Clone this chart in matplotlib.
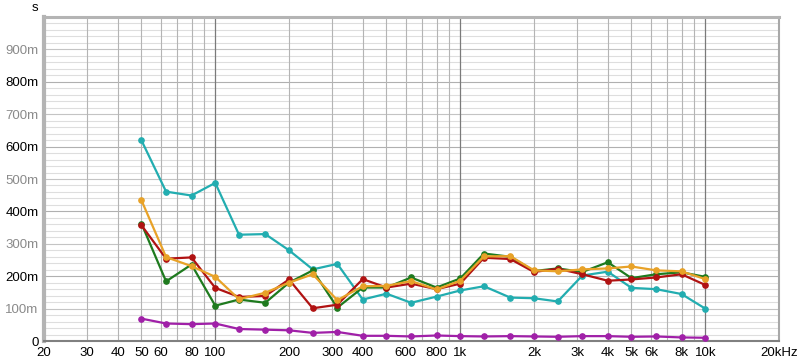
import matplotlib
matplotlib.use("Agg")
import matplotlib.pyplot as plt
import numpy as np

#============================DATA===================================
freqs = [50, 63, 80, 100, 125, 160, 200, 250, 315, 400, 500, 630, 800,
         1000, 1250, 1600, 2000, 2500, 3150, 4000, 5000, 6300, 8000, 10000]

# values in ms
cyan = [619, 461, 449, 488, 328, 330, 280, 221, 238, 128, 146, 118, 137,
        156, 169, 134, 132, 122, 202, 214, 164, 160, 145, 100]
green = [362, 184, 236, 109, 128, 118, 180, 218, 103, 165, 165, 196, 165,
         193, 270, 260, 216, 224, 213, 243, 194, 206, 212, 198]
red = [357, 254, 258, 164, 136, 139, 190, 101, 112, 191, 165, 177, 160,
       177, 257, 253, 213, 223, 206, 186, 190, 196, 206, 173]
orange = [434, 259, 231, 198, 129, 149, 180, 206, 126, 169, 170, 185, 159,
          186, 261, 262, 218, 215, 221, 224, 230, 218, 215, 191]
magenta = [69, 54, 52, 54, 37, 35, 33, 25, 28, 16, 16, 14, 17,
           15, 14, 15, 14, 13, 15, 15, 13, 14, 11, 10]

x_ticks = [20, 30, 40, 50, 60, 80, 100, 200, 300, 400, 600, 800, 1000,
           2000, 3000, 4000, 5000, 6000, 8000, 10000, 20000]
x_labels = ["20", "30", "40", "50", "60", "80", "100", "200", "300", "400",
            "600", "800", "1k", "2k", "3k", "4k", "5k", "6k", "8k", "10k", "20kHz"]
y_ticks = [0, 100, 200, 300, 400, 500, 600, 700, 800, 900]
y_labels = ["0", "100m", "200m", "300m", "400m", "500m", "600m", "700m",
            "800m", "900m"]

#============================PLOT===================================
plt.rcParams['font.family'] = ['Liberation Sans', 'DejaVu Sans']

fig = plt.figure(figsize=(8, 3.64), dpi=100)
ax = fig.add_axes([44/800, 23/364, 735/800, 324/364])
ax.set_xscale("log")
ax.set_xlim(20, 20000)
ax.set_ylim(0, 1000)

# horizontal grid
for v in range(20, 1000, 20):
  if v % 200 == 0:
    c = "#b0b0b0"
  elif v % 100 == 0:
    c = "#c4c4c4"
  else:
    c = "#dedede"
  ax.axhline(v, color=c, lw=0.8, zorder=0)

# vertical grid
for dec in [10, 100, 1000, 10000]:
  for m in range(1, 10):
    f = dec * m
    if f <= 20 or f >= 20000:
      continue
    if m == 1:
      ax.axvline(f, color="#7a7a7a", lw=0.9, zorder=0)
    else:
      ax.axvline(f, color="#b4b4b4", lw=0.8, zorder=0)

series = [(magenta, "#a020a8"), (cyan, "#22adb0"), (green, "#1e7a1e"),
          (red, "#b01212"), (orange, "#e8a228")]
for vals, col in series:
  ax.plot(freqs, vals, color=col, lw=1.6, marker="o", ms=3.8, zorder=3)

ax.set_xticks(x_ticks)
ax.set_xticklabels(x_labels)
ax.minorticks_off()
ax.set_yticks(y_ticks)
ax.set_yticklabels(y_labels)
for lab, v in zip(ax.get_yticklabels(), y_ticks):
  lab.set_color("#000000" if v % 200 == 0 else "#8a8a8a")
ax.tick_params(axis="both", length=0, labelsize=9.5)
ax.tick_params(axis="x", pad=4)
ax.tick_params(axis="y", pad=4)

ax.spines["left"].set_color("#b4b4b4")
ax.spines["left"].set_linewidth(3)
ax.spines["top"].set_color("#b4b4b4")
ax.spines["top"].set_linewidth(2.2)
ax.spines["right"].set_color("#a8a8a8")
ax.spines["right"].set_linewidth(1.5)
ax.spines["bottom"].set_color("#808080")
ax.spines["bottom"].set_linewidth(1.5)

fig.text(35/800, 1 - 8/364, "s", fontsize=9.5, ha="center", va="center")

fig.savefig("out.png", dpi=100, facecolor="white")
